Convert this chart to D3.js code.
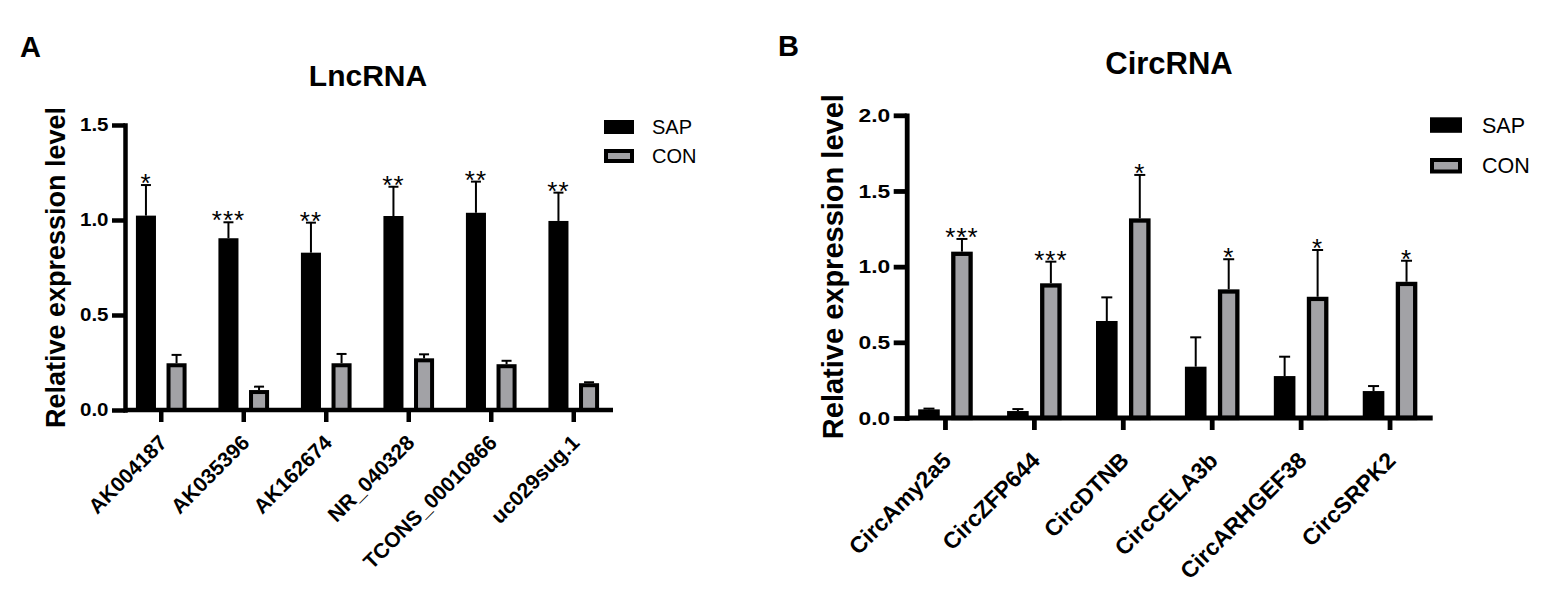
<!DOCTYPE html>
<html><head><meta charset="utf-8">
<script src="https://cdn.jsdelivr.net/npm/d3@7"></script>
<style>
html,body{margin:0;padding:0;background:#fff;}
svg{display:block;}
text{font-family:"Liberation Sans",Arial,Helvetica,sans-serif;fill:#000;}
</style>
</head><body>
<svg id="chart" width="1562" height="596"></svg>
<script>
// ---------- DATA ----------
const seriesNames = ["SAP", "CON"];

const lncCategories = ["AK004187", "AK035396", "AK162674", "NR_040328", "TCONS_00010866", "uc029sug.1"];
const lncSAP   = [1.023, 0.904, 0.828, 1.021, 1.038, 0.995];
const lncSAPsd = [0.161, 0.084, 0.158, 0.154, 0.164, 0.149];
const lncCON   = [0.246, 0.105, 0.246, 0.272, 0.241, 0.141];
const lncCONsd = [0.044, 0.018, 0.049, 0.021, 0.018, 0.005];
const lncSig   = ["*", "***", "**", "**", "**", "**"];   // marked on SAP bars
const lncTicks = [0, 0.5, 1.0, 1.5];

const circCategories = ["CircAmy2a5", "CircZFP644", "CircDTNB", "CircCELA3b", "CircARHGEF38", "CircSRPK2"];
const circSAP   = [0.057, 0.046, 0.641, 0.339, 0.277, 0.178];
const circSAPsd = [0.005, 0.013, 0.156, 0.194, 0.128, 0.033];
const circCON   = [1.099, 0.890, 1.319, 0.850, 0.801, 0.900];
const circCONsd = [0.084, 0.143, 0.287, 0.199, 0.309, 0.139];
const circSig   = ["***", "***", "*", "*", "*", "*"];    // marked on CON bars
const circTicks = [0, 0.5, 1.0, 1.5, 2.0];

const yTitle = "Relative expression level";

// ---------- DRAW ----------
const svg = d3.select("#chart");
svg.append("rect").attr("width", 1562).attr("height", 596).attr("fill", "#fff");
const colors = { SAP: "#000000", CON: "#a2a2a6" };

function panel(o) {
  const g = svg.append("g");
  const x = d3.scaleBand().domain(o.cats).range(o.xRange);
  const half = x.step() * 0.307;
  const sub = d3.scaleBand().domain(seriesNames).range([-half, half]).paddingInner(0.345);
  const y = d3.scaleLinear().domain(o.yDomain).range(o.yRange);
  const sw = o.barStroke;

  const rows = o.cats.flatMap((c, i) => [
    { s: "SAP", c, v: o.sap[i], sd: o.sapSd[i], sig: o.sigSeries === "SAP" ? o.sig[i] : "" },
    { s: "CON", c, v: o.con[i], sd: o.conSd[i], sig: o.sigSeries === "CON" ? o.sig[i] : "" }
  ]);
  const cx = d => x(d.c) + x.bandwidth() / 2 + sub(d.s) + sub.bandwidth() / 2;

  // bars
  g.selectAll("rect.bar").data(rows).join("rect")
    .attr("class", "bar")
    .attr("x", d => x(d.c) + x.bandwidth() / 2 + sub(d.s) + (d.s === "CON" ? sw / 2 : 0))
    .attr("width", d => sub.bandwidth() - (d.s === "CON" ? sw : 0))
    .attr("y", d => y(d.v) + (d.s === "CON" ? sw / 2 : 0))
    .attr("height", d => y(0) - y(d.v) - (d.s === "CON" ? sw / 2 : 0))
    .attr("fill", d => colors[d.s])
    .attr("stroke", d => d.s === "CON" ? "#000" : "none")
    .attr("stroke-width", sw);

  // error bars
  g.selectAll("line.err").data(rows).join("line")
    .attr("x1", cx).attr("x2", cx)
    .attr("y1", d => y(d.v)).attr("y2", d => y(d.v + d.sd))
    .attr("stroke", "#000").attr("stroke-width", 2);
  g.selectAll("line.cap").data(rows).join("line")
    .attr("x1", d => cx(d) - o.capW / 2).attr("x2", d => cx(d) + o.capW / 2)
    .attr("y1", d => y(d.v + d.sd)).attr("y2", d => y(d.v + d.sd))
    .attr("stroke", "#000").attr("stroke-width", 2);

  // significance stars
  g.selectAll("text.sig").data(rows.filter(d => d.sig)).join("text")
    .attr("x", cx).attr("y", d => y(d.v + d.sd) + o.starDy)
    .attr("text-anchor", "middle")
    .style("font-size", o.starSize + "px")
    .style("letter-spacing", "1px")
    .text(d => d.sig);

  // y axis
  const ya = g.append("g").attr("transform", `translate(${o.yAxisX},0)`)
    .call(d3.axisLeft(y).tickValues(o.ticks).tickSize(13).tickSizeOuter(0).tickFormat(d3.format(".1f")));
  ya.select(".domain").attr("stroke-width", o.axisW).attr("stroke-linecap", "square");
  ya.selectAll(".tick line").attr("stroke-width", o.axisW);
  ya.selectAll(".tick text")
    .attr("x", -(13 + o.tickPad) / o.tickScale)
    .attr("transform", `scale(${o.tickScale},1)`)
    .attr("font-size", o.tickFont)
    .style("font-size", o.tickFont + "px").style("font-weight", "bold")
    .style("font-family", '"Liberation Sans",Arial,sans-serif');

  // x axis
  const xa = g.append("g").attr("transform", `translate(0,${y(0)})`)
    .call(d3.axisBottom(x).tickSize(12).tickSizeOuter(0).tickFormat(""));
  xa.select(".domain").attr("d", `M${o.yAxisX},0H${o.xAxisEnd}`).attr("stroke-width", o.axisW);
  xa.selectAll(".tick line").attr("stroke-width", o.axisW);

  // x labels
  g.selectAll("text.xl").data(o.cats).join("text")
    .attr("transform", c => `translate(${x(c) + x.bandwidth() / 2 + o.xlDx},${y(0) + o.xlDy}) rotate(-45)`)
    .attr("text-anchor", "end")
    .style("font-size", o.xlFont + "px").style("font-weight", "bold")
    .text(c => c);

  // y title
  g.append("text")
    .attr("transform", `translate(${o.yTitleX},${(o.yRange[0] + o.yRange[1]) / 2}) rotate(-90)`)
    .attr("text-anchor", "middle")
    .style("font-size", o.yTitleFont + "px").style("font-weight", "bold")
    .text(yTitle);

  // title
  g.append("text").attr("x", o.titleX).attr("y", o.titleY).attr("text-anchor", "middle")
    .style("font-size", o.titleFont + "px").style("font-weight", "bold").text(o.title);

  // panel label
  g.append("text").attr("x", o.labelX).attr("y", o.labelY)
    .style("font-size", "29px").style("font-weight", "bold").text(o.label);

  // legend
  const L = o.legend;
  seriesNames.forEach((s, i) => {
    const top = L.tops[i];
    if (s === "CON") {
      g.append("rect").attr("x", L.x + L.sw / 2).attr("y", top + L.sw / 2)
        .attr("width", L.w - L.sw).attr("height", L.h - L.sw)
        .attr("fill", colors.CON).attr("stroke", "#000").attr("stroke-width", L.sw);
    } else {
      g.append("rect").attr("x", L.x).attr("y", top).attr("width", L.w).attr("height", L.h)
        .attr("fill", colors.SAP);
    }
    g.append("text").attr("x", L.textX).attr("y", L.baselines[i])
      .style("font-size", L.font + "px").text(s);
  });
}

panel({
  label: "A", labelX: 20, labelY: 57,
  title: "LncRNA", titleX: 368, titleY: 86, titleFont: 30,
  cats: lncCategories, sap: lncSAP, sapSd: lncSAPsd, con: lncCON, conSd: lncCONsd,
  sig: lncSig, sigSeries: "SAP", ticks: lncTicks,
  xRange: [120, 615], yDomain: [0, 1.5], yRange: [410, 125],
  yAxisX: 125, xAxisEnd: 613, axisW: 4.5, barStroke: 4,
  tickFont: 18, tickScale: 1.14, tickPad: 3.5,
  xlFont: 21, xlDx: 7, xlDy: 34,
  yTitleX: 65, yTitleFont: 27,
  capW: 10, starSize: 26, starDy: 7,
  legend: { x: 604, w: 30, h: 14, sw: 4, tops: [120, 149], textX: 652, baselines: [134, 163], font: 20 }
});

panel({
  label: "B", labelX: 778, labelY: 56,
  title: "CircRNA", titleX: 1169, titleY: 74, titleFont: 31,
  cats: circCategories, sap: circSAP, sapSd: circSAPsd, con: circCON, conSd: circCONsd,
  sig: circSig, sigSeries: "CON", ticks: circTicks,
  xRange: [901, 1434.5], yDomain: [0, 2], yRange: [418, 115.3],
  yAxisX: 906.7, xAxisEnd: 1432.7, axisW: 4.8, barStroke: 4.3,
  tickFont: 19, tickScale: 1.2, tickPad: 3.5,
  xlFont: 23, xlDx: 7, xlDy: 44,
  yTitleX: 843, yTitleFont: 29,
  capW: 11, starSize: 26, starDy: 7,
  legend: { x: 1430, w: 32, h: 15.5, sw: 4, tops: [117.3, 158], textX: 1482, baselines: [132.7, 173.3], font: 21.5 }
});
</script>
</body></html>
